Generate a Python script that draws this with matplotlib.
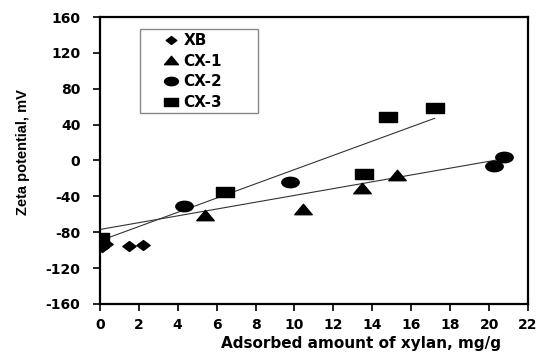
import matplotlib
matplotlib.use("Agg")
import matplotlib.pyplot as plt
from matplotlib.path import Path
from matplotlib.patches import Rectangle

plt.rcParams['font.family'] = ['DejaVu Sans']
plt.rcParams['font.weight'] = 'bold'
plt.rcParams['axes.unicode_minus'] = False

# adsorbed xylan (mg/g) vs zeta potential (mV)
xb_x = [0.1, 0.3, 1.5, 2.2]
xb_y = [-97, -93, -95, -94]

cx1_x = [5.4, 10.45, 13.45, 15.25]
cx1_y = [-61, -54, -31, -16]

cx2_x = [4.3, 9.75, 20.25, 20.75]
cx2_y = [-51, -24, -6, 4]

cx3_x = [0.0, 6.45, 13.55, 14.8, 17.2]
cx3_y = [-87, -35, -15, 48, 58]

# linear trend lines (end points)
trend1_x = [0.0, 20.65]
trend1_y = [-77, 1.5]
trend2_x = [0.2, 17.2]
trend2_y = [-88, 47]

xticks = list(range(0, 23, 2))
yticks = list(range(-160, 161, 40))

# markers are slightly wider than tall
sq = Path([(-1, -0.62), (1, -0.62), (1, 0.62), (-1, 0.62), (-1, -0.62)],
          [Path.MOVETO, Path.LINETO, Path.LINETO, Path.LINETO, Path.CLOSEPOLY])
tri = Path([(-1, -0.6), (1, -0.6), (0, 0.6), (-1, -0.6)],
           [Path.MOVETO, Path.LINETO, Path.LINETO, Path.CLOSEPOLY])
dia = Path([(-1, 0), (0, -0.75), (1, 0), (0, 0.75), (-1, 0)],
           [Path.MOVETO, Path.LINETO, Path.LINETO, Path.LINETO, Path.CLOSEPOLY])
ell = Path.circle((0, 0), 1)
ell = Path(ell.vertices * [1.0, 0.6], ell.codes)

fig = plt.figure(figsize=(5.46, 3.55), dpi=100)
ax = fig.add_axes([0.183, 0.144, 0.784, 0.808])

ax.plot(trend1_x, trend1_y, color='#333333', lw=0.8, zorder=2)
ax.plot(trend2_x, trend2_y, color='#333333', lw=0.8, zorder=2)

ax.plot(xb_x, xb_y, ls='none', marker=dia, ms=9.5, color='black', label='XB', zorder=3)
ax.plot(cx1_x, cx1_y, ls='none', marker=tri, ms=12.5, color='black', label='CX-1', zorder=3)
ax.plot(cx2_x, cx2_y, ls='none', marker=ell, ms=12.5, color='black', label='CX-2', zorder=3)
ax.plot(cx3_x, cx3_y, ls='none', marker=sq, ms=12.5, color='black', label='CX-3', zorder=3)

ax.set_xlim(0, 22)
ax.set_ylim(-160, 160)
ax.set_xticks(xticks)
ax.set_yticks(yticks)
ax.tick_params(direction='out', length=5, width=1.2, labelsize=10)
ax.tick_params(axis='y', pad=9)
ax.tick_params(axis='x', pad=5)
for s in ax.spines.values():
    s.set_linewidth(1.6)

ax.set_xlabel('Adsorbed amount of xylan, mg/g', fontsize=11, fontweight='bold')
ax.xaxis.set_label_coords(0.61, -0.112)
ax.set_ylabel('Zeta potential, mV', fontsize=10.5, fontweight='bold',
              family=['Liberation Sans', 'DejaVu Sans'])
ax.yaxis.set_label_coords(-0.163, 0.53)

# legend box drawn separately so the padding can be wider than tall
ax.add_patch(Rectangle((0.0935, 0.666), 0.276, 0.292, transform=ax.transAxes,
                       fill=False, edgecolor='#888888', lw=1.0, zorder=4))
leg = ax.legend(loc='upper left', bbox_to_anchor=(0.142, 0.955), fontsize=11,
                handlelength=1.0, handletextpad=0.3, labelspacing=0.37,
                borderpad=0.2, markerscale=0.8, frameon=False,
                borderaxespad=0)

fig.savefig('out.png', dpi=100)
